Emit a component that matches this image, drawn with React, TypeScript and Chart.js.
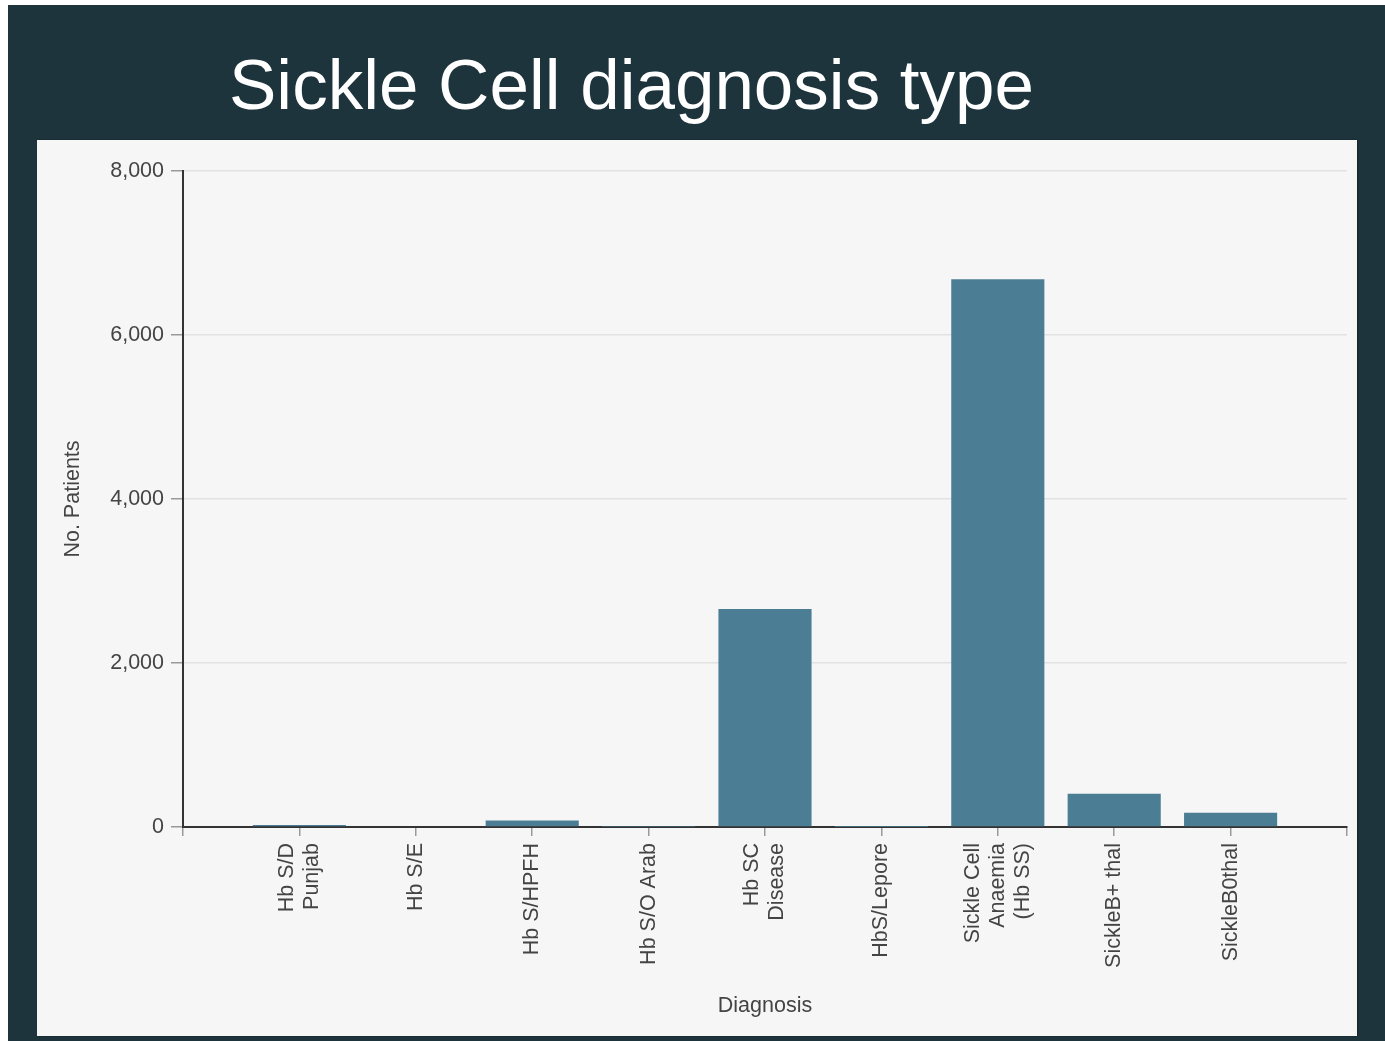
import React, { useEffect, useRef } from 'react';
import { Chart, registerables } from 'chart.js';

Chart.register(...registerables);

// Diagnosis categories (multi-line labels) and patient counts
const categories: string[][] = [
  ['Hb S/D', 'Punjab'],
  ['Hb S/E'],
  ['Hb S/HPFH'],
  ['Hb S/O Arab'],
  ['Hb SC', 'Disease'],
  ['HbS/Lepore'],
  ['Sickle Cell', 'Anaemia', '(Hb SS)'],
  ['SickleB+ thal'],
  ['SickleB0thal'],
];
const patients: number[] = [25, 10, 80, 2, 2660, 1, 6680, 405, 173];
const yMax = 8000;
const yStep = 2000;

const FONT = '"Liberation Sans", Arial, Helvetica, sans-serif';
const FONT_SIZE = 21.5;
const TEXT = '#444444';
const BAR = '#4b7e94';

// Draws the rotated, multi-line diagnosis labels centred under each tick
const diagnosisLabels = {
  id: 'diagnosisLabels',
  afterDraw(chart: any) {
    const xs = chart.scales.x;
    const ctx = chart.ctx as CanvasRenderingContext2D;
    const lineH = 25;
    const top = xs.top + 16;
    ctx.save();
    ctx.font = `${FONT_SIZE}px ${FONT}`;
    ctx.fillStyle = TEXT;
    ctx.textAlign = 'right';
    ctx.textBaseline = 'middle';
    categories.forEach((lines, i) => {
      const px = xs.getPixelForValue(i + 1);
      lines.forEach((line, j) => {
        const cx = px + (j - (lines.length - 1) / 2) * lineH;
        ctx.save();
        ctx.translate(cx, top);
        ctx.rotate(-Math.PI / 2);
        ctx.fillText(line, 0, 0);
        ctx.restore();
      });
    });
    ctx.restore();
  },
};

function DiagnosisChart() {
  const ref = useRef<HTMLCanvasElement>(null);

  useEffect(() => {
    if (!ref.current) return;
    const chart = new Chart(ref.current, {
      type: 'bar',
      data: {
        datasets: [
          {
            label: 'No. Patients',
            data: patients.map((v, i) => ({ x: i + 1, y: v })),
            backgroundColor: BAR,
            borderWidth: 0,
            barPercentage: 0.8,
            categoryPercentage: 1.0,
          },
        ],
      },
      options: {
        animation: false,
        responsive: false,
        layout: { padding: { left: 19, top: 31, right: 10, bottom: 13 } },
        plugins: {
          legend: { display: false },
          tooltip: { enabled: false },
        },
        scales: {
          x: {
            type: 'linear',
            min: 0,
            max: categories.length + 1,
            offset: false,
            ticks: { display: false, stepSize: 1 },
            grid: {
              display: true,
              offset: false,
              drawOnChartArea: false,
              drawTicks: true,
              tickLength: 9,
              tickColor: '#9a9a9a',
              lineWidth: 1.5,
            },
            border: { display: true, color: '#333333', width: 2 },
            title: {
              display: true,
              text: 'Diagnosis',
              color: TEXT,
              font: { family: FONT, size: FONT_SIZE },
              padding: { top: 4, bottom: 4 },
            },
            afterFit: (s: any) => {
              s.height = 196;
            },
          },
          y: {
            min: 0,
            max: yMax,
            ticks: {
              stepSize: yStep,
              color: TEXT,
              padding: 7,
              font: { family: FONT, size: FONT_SIZE },
              callback: (v: any) => Number(v).toLocaleString('en-US'),
            },
            grid: {
              color: '#e2e2e2',
              lineWidth: 1.5,
              tickLength: 12,
              tickColor: '#9a9a9a',
            },
            border: { display: true, color: '#333333', width: 2 },
            title: {
              display: true,
              text: 'No. Patients',
              color: TEXT,
              font: { family: FONT, size: FONT_SIZE },
              padding: { top: 4, bottom: 4 },
            },
            afterFit: (s: any) => {
              s.width = 127;
            },
          },
        },
      },
      plugins: [diagnosisLabels],
    });
    return () => chart.destroy();
  }, []);

  return <canvas ref={ref} width={1320} height={896} style={{ display: 'block' }} />;
}

export default function App() {
  return (
    <>
      <div
        style={{
          position: 'absolute',
          left: 8,
          top: 5,
          width: 1377,
          height: 1036,
          background: '#1e343d',
        }}
      />
      <div
        style={{
          position: 'absolute',
          left: 229,
          top: 49,
          color: '#ffffff',
          font: `71px ${FONT}`,
          lineHeight: '71px',
          whiteSpace: 'nowrap',
        }}
      >
        Sickle Cell diagnosis type
      </div>
      <div
        style={{
          position: 'absolute',
          left: 37,
          top: 140,
          width: 1320,
          height: 896,
          background: '#f6f6f6',
          boxShadow: '1px 0 2px rgba(0,0,0,0.35)',
        }}
      >
        <DiagnosisChart />
      </div>
    </>
  );
}
